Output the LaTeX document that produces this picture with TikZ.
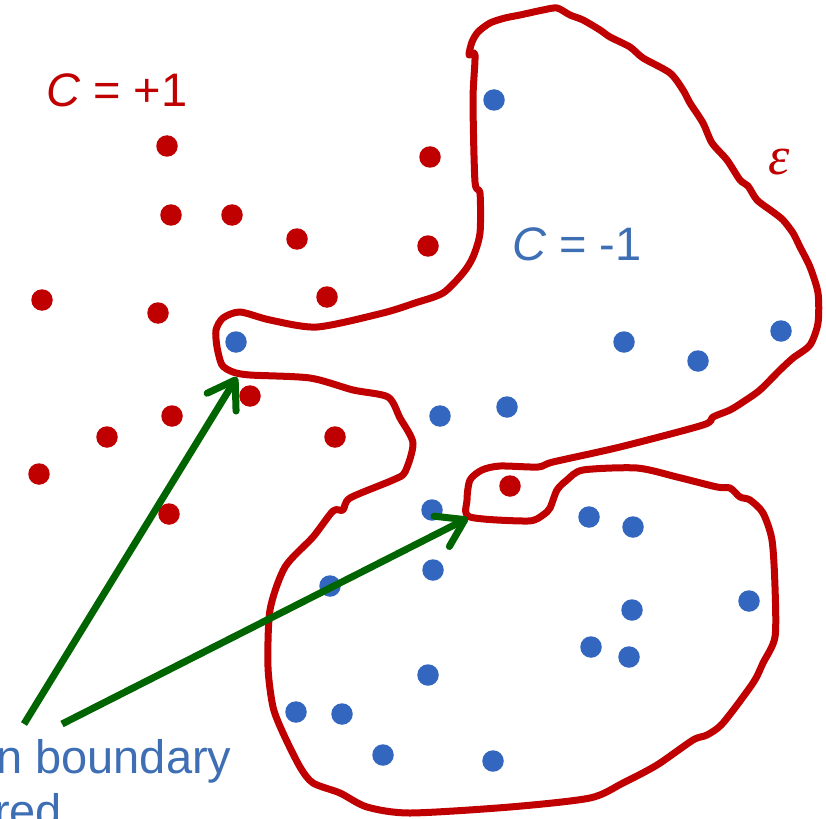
\documentclass[tikz,border=0pt]{standalone}
\usepackage{fontspec}
\setmainfont{Liberation Sans}
\newfontfamily\serifgr{Liberation Serif}
\usetikzlibrary{arrows.meta}
\definecolor{cred}{HTML}{C00000}
\definecolor{cblue}{HTML}{3366BE}
\definecolor{tblue}{HTML}{3E6EB4}
\definecolor{cgreen}{HTML}{006400}
\tikzset{
  rdot/.style={circle,fill=cred,inner sep=0pt,minimum size=21.5pt},
  bdot/.style={circle,fill=cblue,inner sep=0pt,minimum size=21.5pt},
  bound/.style={draw=cred,line width=7pt,line join=round},
  garrow/.style={draw=cgreen,line width=7pt,-{Straight Barb[length=26pt,width=34pt,round]}},
  lbl/.style={inner sep=0pt,anchor=base west,font=\fontsize{47}{54}\selectfont}
}
\begin{document}
\begin{tikzpicture}[x=1pt,y=-1pt]
\useasboundingbox (0,0) rectangle (826,818);
\clip (0,0) rectangle (826,818);
% boundary
\draw[bound] plot[smooth cycle,tension=0.45] coordinates {
(469,55) (472,42) (478,32) (490,23) (505,18) (520,15) (543,10) (557,8) (570,15) (583,20)
(600,30) (610,37) (630,47) (643,58) (670,73) (683,90) (690,103) (703,123) (712,143)
(727,160) (740,180) (748,186) (757,200) (773,212) (783,220) (793,233) (800,247) (810,267)
(818,293) (818,323) (810,345) (793,358) (780,370) (760,390) (743,402) (730,410) (713,417)
(703,425) (620,447) (553,462) (538,467) (500,466) (482,470) (470,480) (467,500) (470,517)
(528,521) (543,515) (550,508) (557,490) (567,480) (583,470) (637,468) (677,477) (717,487)
(730,488) (740,497) (750,500) (763,513) (772,540) (775,587) (775,637) (763,663) (753,683)
(723,723) (707,735) (693,740) (657,765) (623,783) (590,798) (510,807) (410,813) (367,807)
(340,793) (313,783) (300,767) (283,733) (273,707) (268,667) (270,610) (285,567) (313,537)
(333,511) (343,510) (350,498) (393,480) (405,472) (413,443) (400,418) (388,397) (353,390)
(310,378) (250,375) (233,372) (222,365) (217,347) (216,330) (223,318) (240,312) (270,320)
(317,327) (383,313) (415,303) (443,293) (463,273) (473,257) (480,233) (480,193) (475,182)
(473,100) (475,55)
};
% red dots
\node[rdot] (r1) at (167,146) {};
\node[rdot] (r2) at (171,215) {};
\node[rdot] (r3) at (232,215) {};
\node[rdot] (r4) at (297,239) {};
\node[rdot] (r5) at (42,300) {};
\node[rdot] (r6) at (158,313) {};
\node[rdot] (r7) at (327,297) {};
\node[rdot] (r8) at (430,157) {};
\node[rdot] (r9) at (428,246) {};
\node[rdot] (r10) at (250,396) {};
\node[rdot] (r11) at (172,416) {};
\node[rdot] (r12) at (107,437) {};
\node[rdot] (r13) at (335,437) {};
\node[rdot] (r14) at (39,474) {};
\node[rdot] (r15) at (169,514) {};
\node[rdot] (r16) at (510,486) {};
% blue dots
\node[bdot] (b1) at (236,342) {};
\node[bdot] (b2) at (494,100) {};
\node[bdot] (b3) at (624,342) {};
\node[bdot] (b4) at (698,361) {};
\node[bdot] (b5) at (781,331) {};
\node[bdot] (b6) at (440,416) {};
\node[bdot] (b7) at (507,407) {};
\node[bdot] (b8) at (432,510) {};
\node[bdot] (b9) at (589,517) {};
\node[bdot] (b10) at (633,527) {};
\node[bdot] (b11) at (433,570) {};
\node[bdot] (b12) at (749,601) {};
\node[bdot] (b13) at (632,610) {};
\node[bdot] (b14) at (591,647) {};
\node[bdot] (b15) at (629,657) {};
\node[bdot] (b16) at (428,675) {};
\node[bdot] (b17) at (330,586) {};
\node[bdot] (b18) at (296,712) {};
\node[bdot] (b19) at (342,714) {};
\node[bdot] (b20) at (383,755) {};
\node[bdot] (b21) at (493,761) {};
% labels
\node[lbl,text=cred] (cp) at (46,107) {\textit{C} = +1};
\node[lbl,text=tblue] (cm) at (512,260) {\textit{C} = -1};
\node[inner sep=0pt,text=cred,font=\serifgr\itshape\fontsize{54}{60}\selectfont] (eps) at (779,162) {ε};
\node[lbl,text=tblue] (t1) at (-4,773) {n boundary};
\node[lbl,text=tblue] (t2) at (-6,827) {red};
% arrows
\coordinate (s1) at (24,724);
\coordinate (s2) at (62,724);
\coordinate (tip1) at (237,377);
\coordinate (tip2) at (468,518);
\draw[garrow] (s1) -- (tip1);
\draw[garrow] (s2) -- (tip2);
\end{tikzpicture}
\end{document}
